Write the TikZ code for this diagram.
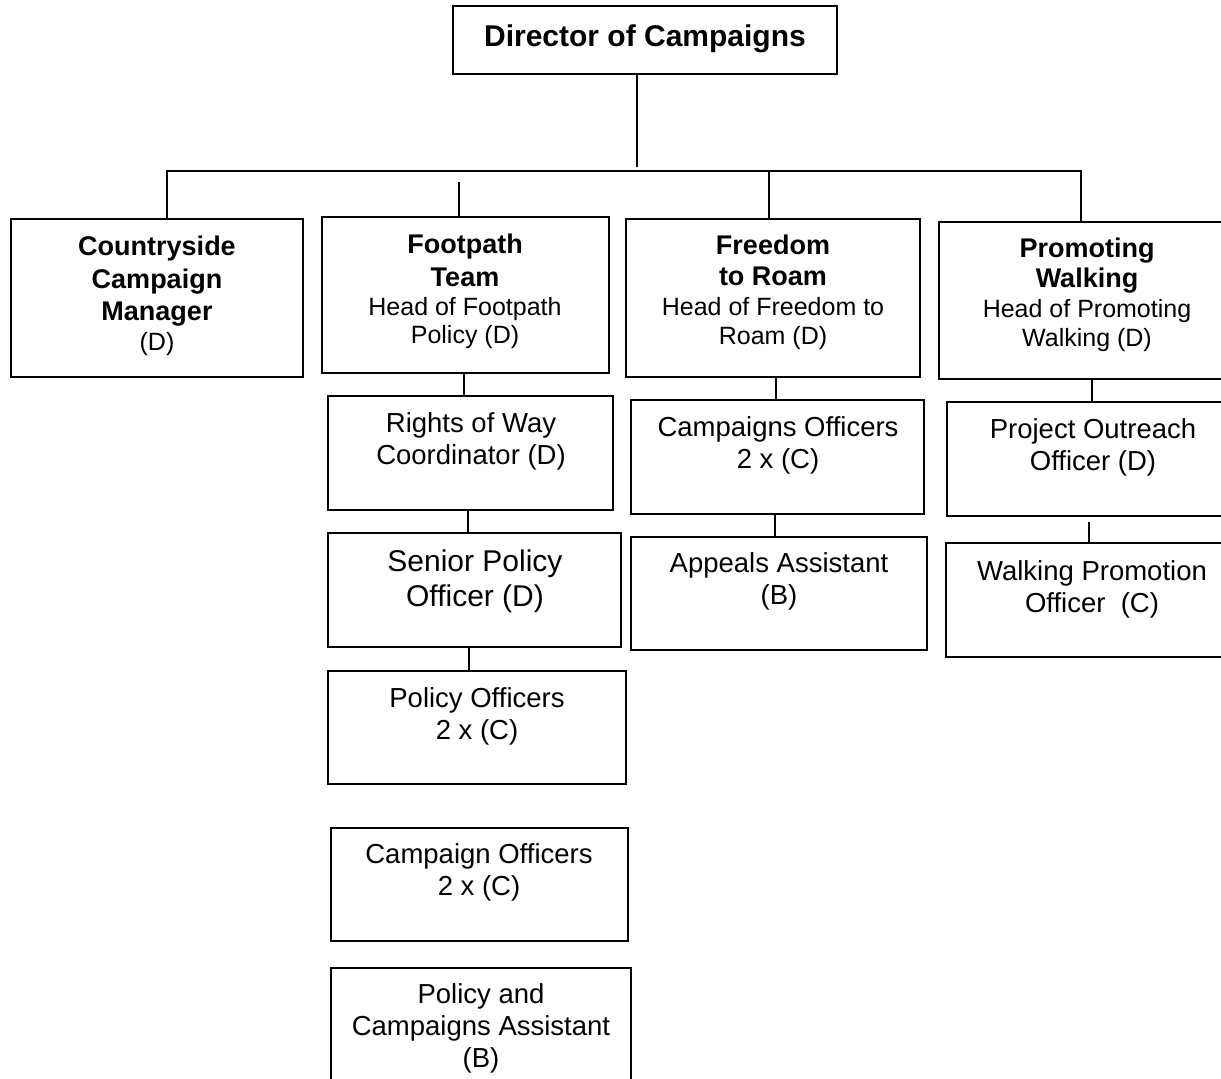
\documentclass[tikz,border=0pt]{standalone}
\usepackage{fontspec}
\setmainfont{Liberation Sans}
\usetikzlibrary{fit}

\newcommand{\bt}{\fontsize{13.5}{14}\selectfont\bfseries}
\newcommand{\nt}{\fontsize{12.5}{14}\selectfont\mdseries}

\begin{document}
\begin{tikzpicture}[x=0.5pt,y=-0.5pt,
    post/.style={draw, line width=1pt, inner sep=0pt},
    head/.style={anchor=north, align=center, inner sep=0pt, font=\fontsize{13.5}{14}\selectfont},
    staff/.style={anchor=north, align=center, inner sep=0pt, font=\fontsize{13.75}{16}\selectfont},
    link/.style={line width=1pt}]
    \useasboundingbox (0,0) rectangle (1221,1078);
    \clip (0,0) rectangle (1221,1078);

    % boxes
    \node[post, fit={(453,6) (837,74)}] (dir) {};
    \node[post, fit={(11,219) (303,377)}] (cc) {};
    \node[post, fit={(322,217) (609,373)}] (fp) {};
    \node[post, fit={(626,219) (920,377)}] (fr) {};
    \node[post, fit={(939,222) (1240,379)}] (pw) {};
    \node[post, fit={(328,396) (613,510)}] (rw) {};
    \node[post, fit={(328,533) (621,647)}] (sp) {};
    \node[post, fit={(328,671) (626,784)}] (po) {};
    \node[post, fit={(331,828) (628,941)}] (co) {};
    \node[post, fit={(331,968) (631,1090)}] (pa) {};
    \node[post, fit={(631,400) (924,514)}] (cf) {};
    \node[post, fit={(631,537) (927,650)}] (aa) {};
    \node[post, fit={(947,402) (1240,516)}] (pj) {};
    \node[post, fit={(946,543) (1240,657)}] (wp) {};

    % texts
    \node[anchor=base, inner sep=0pt, font=\fontsize{15}{17}\selectfont\bfseries] (dirt) at (645,46) {Director of Campaigns};
    \node[head] (cct) at (157,236) {\bt Countryside\\[2.5pt]\bt Campaign\\[2pt]\bt Manager\\[1pt]\nt (D)};
    \node[head] (fpt) at (465,234) {\bt Footpath\\[2.5pt]\bt Team\\[0.5pt]\nt Head of Footpath\\\nt Policy (D)};
    \node[head] (frt) at (773,235) {\bt Freedom\\[1.5pt]\bt to Roam\\[1pt]\nt Head of Freedom to\\[0.5pt]\nt Roam (D)};
    \node[head] (pwt) at (1087,238) {\bt Promoting\\[1pt]\bt Walking\\[1pt]\nt Head of Promoting\\[0.5pt]\nt Walking (D)};
    \node[staff] (rwt) at (471,412) {Rights of Way\\Coordinator (D)};
    \node[staff, font=\fontsize{15}{17.5}\selectfont] (spt) at (475,549) {Senior Policy\\Officer (D)};
    \node[staff] (pot) at (477,687) {Policy Officers\\2 x (C)};
    \node[staff] (cot) at (479,843) {Campaign Officers\\2 x (C)};
    \node[staff] (pat) at (481,983) {Policy and\\Campaigns Assistant\\(B)};
    \node[staff] (cft) at (778,416) {Campaigns Officers\\2 x (C)};
    \node[staff] (aat) at (779,552) {Appeals Assistant\\(B)};
    \node[staff] (pjt) at (1093,418) {Project Outreach\\Officer (D)};
    \node[staff] (wpt) at (1092,560) {Walking Promotion\\Officer\ \ (C)};

    % lines
    \coordinate (bus) at (637,167);
    \coordinate (busl) at (167,171);
    \coordinate (busr) at (1081,171);
    \draw[link] (dir.south -| bus) -- (bus);
    \draw[link] (busl |- cc.north) -- (busl) -- (busr) -- (busr |- pw.north);
    \draw[link] (459,182) -- (459,0 |- fp.north);
    \draw[link] (769,171) -- (769,0 |- fr.north);
    \draw[link] (464,0 |- fp.south) -- (464,0 |- rw.north);
    \draw[link] (468,0 |- rw.south) -- (468,0 |- sp.north);
    \draw[link] (469,0 |- sp.south) -- (469,0 |- po.north);
    \draw[link] (776,0 |- fr.south) -- (776,0 |- cf.north);
    \draw[link] (775,0 |- cf.south) -- (775,0 |- aa.north);
    \draw[link] (1092,0 |- pw.south) -- (1092,0 |- pj.north);
    \draw[link] (1089,522) -- (1089,0 |- wp.north);

\end{tikzpicture}
\end{document}
